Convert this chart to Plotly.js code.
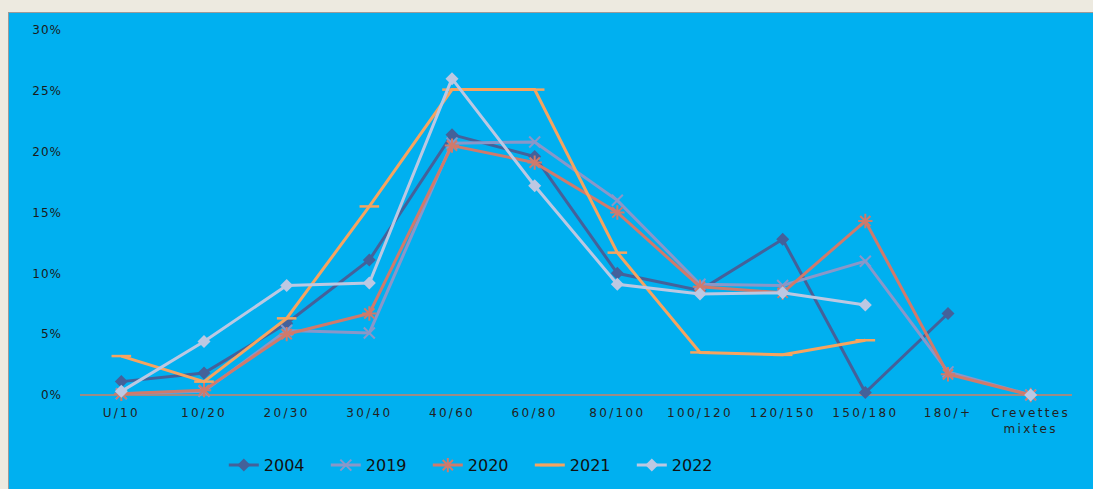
<!DOCTYPE html>
<html>
<head>
<meta charset="utf-8">
<script src="https://cdn.plot.ly/plotly-3.0.1.min.js"></script>
<style>
html,body{margin:0;padding:0;background:#EDEAE0;width:1093px;height:489px;overflow:hidden;}
#chart{position:absolute;left:8px;top:12px;width:1085px;height:477px;border-left:1px solid #9a9a9a;border-top:1px solid #9a9a9a;box-sizing:border-box;}
#chart .xtick text{letter-spacing:2.3px;}
#chart .ytick text{letter-spacing:1px;}
</style>
</head>
<body>
<div id="chart"></div>
<script>
const categories = ["U/10","10/20","20/30","30/40","40/60","60/80","80/100","100/120","120/150","150/180","180/+","Crevettes<br>mixtes"];
const s2004 = [0.011,0.018,0.059,0.111,0.214,0.196,0.100,0.086,0.128,0.002,0.067,null];
const s2019 = [0.001,0.003,0.053,0.051,0.207,0.208,0.160,0.091,0.090,0.110,0.019,0.000];
const s2020 = [0.001,0.004,0.050,0.067,0.205,0.191,0.150,0.089,0.084,0.143,0.017,0.000];
const s2021 = [0.032,0.011,0.063,0.155,0.251,0.251,0.117,0.035,0.033,0.045,null,null];
const s2022 = [0.003,0.044,0.090,0.092,0.260,0.172,0.091,0.083,0.084,0.074,null,0.000];

function tr(name, y, color, symbol, size, mw){
  return {
    type:'scatter', mode:'lines+markers', name:name, x:categories, y:y,
    connectgaps:false,
    line:{color:color, width:3},
    marker:{symbol:symbol, size:size, color:color, line:{color:color, width:mw}},
    cliponaxis:false
  };
}
const data = [
  tr('2004', s2004, '#44619A', 'diamond', 10, 0),
  tr('2019', s2019, '#8A97C8', 'x-thin-open', 11, 2),
  tr('2020', s2020, '#D07A6B', 'asterisk-open', 12, 2),
  tr('2021', s2021, '#F6A45F', 'line-ew-open', 14, 2.5),
  tr('2022', s2022, '#BCC8E2', 'diamond', 10, 0)
];
const layout = {
  width:1085, height:477,
  paper_bgcolor:'#00B0F0', plot_bgcolor:'#00B0F0',
  margin:{l:71, r:22, t:17, b:95},
  font:{family:'DejaVu Sans, Verdana, sans-serif', color:'#1a1a1a', size:12},
  showlegend:true,
  legend:{orientation:'h', xref:'container', x:0.433, xanchor:'center', yref:'container', y:0.052, yanchor:'middle',
    font:{size:16, color:'#111'}, entrywidth:57, entrywidthmode:'pixels', bgcolor:'rgba(0,0,0,0)'},
  xaxis:{type:'category', range:[-0.5, 11.5], showgrid:false, zeroline:false, showline:false, automargin:false,
    ticks:'', tickfont:{size:12, color:'#222'}, ticklabelstandoff:9, fixedrange:true},
  yaxis:{range:[0,0.30], dtick:0.05, tickformat:'.0%', showgrid:false, zeroline:true, automargin:false,
    zerolinecolor:'#9C8C86', zerolinewidth:1.5, showline:false, ticks:'',
    ticklabelstandoff:17, tickfont:{size:12, color:'#1a1a1a'}, fixedrange:true}
};
Plotly.newPlot('chart', data, layout, {displayModeBar:false, staticPlot:true});
</script>
</body>
</html>
